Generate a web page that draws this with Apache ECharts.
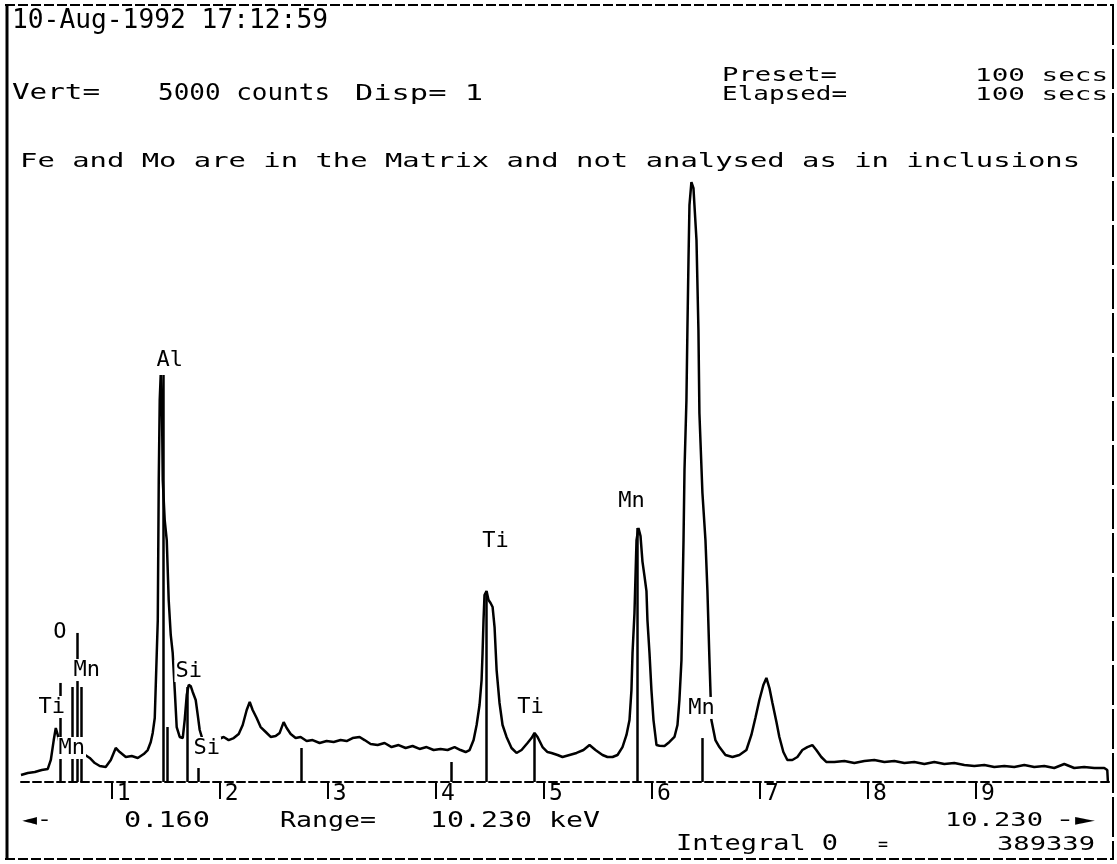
<!DOCTYPE html>
<html>
<head>
<meta charset="utf-8">
<title>EDS spectrum 10-Aug-1992</title>
<script src="https://cdn.jsdelivr.net/npm/echarts/dist/echarts.min.js"></script>
<style>
  html, body { margin: 0; padding: 0; background: #fff; }
  #spectrum { width: 1117px; height: 864px; }
</style>
</head>
<body>
<div id="spectrum"></div>
<script>
// spectrum: [keV, counts]  (full scale = 5000 counts)
var spectrum = [
  [0.16,52],[0.223,67],[0.288,74],[0.352,89],[0.408,97],[0.436,164],[0.463,312],[0.482,402],[0.500,350],[0.528,253],
  [0.574,223],[0.630,238],[0.685,223],[0.741,208],[0.796,179],[0.843,141],[0.889,119],[0.944,112],[0.991,164],[1.037,253],
  [1.074,223],[1.130,186],[1.185,193],[1.241,179],[1.296,208],[1.333,238],[1.361,298],[1.379,365],[1.398,476],[1.416,945],
  [1.426,1205],[1.435,2247],[1.444,2842],[1.453,3028],[1.463,2916],[1.472,2247],[1.490,1949],[1.509,1800],[1.527,1354],[1.546,1094],
  [1.564,960],[1.583,684],[1.601,409],[1.629,335],[1.657,327],[1.675,461],[1.694,647],[1.712,722],[1.731,714],[1.749,670],
  [1.777,610],[1.796,498],[1.814,387],[1.842,312],[1.888,275],[1.944,305],[1.990,320],[2.036,335],[2.082,312],[2.129,327],
  [2.175,357],[2.212,424],[2.249,536],[2.277,595],[2.304,536],[2.341,476],[2.378,409],[2.425,372],[2.471,335],[2.517,342],
  [2.554,365],[2.591,446],[2.619,402],[2.656,357],[2.702,327],[2.748,335],[2.804,305],[2.859,312],[2.924,290],[2.989,305],
  [3.054,298],[3.118,312],[3.174,305],[3.229,327],[3.294,335],[3.340,312],[3.396,283],[3.461,275],[3.525,290],[3.590,260],
  [3.655,275],[3.720,253],[3.784,268],[3.849,246],[3.914,260],[3.979,238],[4.043,246],[4.108,238],[4.173,260],[4.228,238],
  [4.275,223],[4.312,238],[4.349,312],[4.377,424],[4.404,573],[4.423,759],[4.432,960],[4.441,1205],[4.450,1391],[4.469,1421],
  [4.487,1354],[4.506,1332],[4.525,1302],[4.543,1153],[4.562,833],[4.589,588],[4.617,424],[4.654,335],[4.700,253],[4.746,216],
  [4.793,238],[4.848,290],[4.885,327],[4.913,365],[4.941,335],[4.987,260],[5.033,223],[5.070,216],[5.126,201],[5.172,186],
  [5.237,201],[5.302,216],[5.366,238],[5.422,275],[5.477,238],[5.542,201],[5.588,186],[5.635,186],[5.681,201],[5.727,260],
  [5.764,350],[5.792,461],[5.810,684],[5.820,960],[5.838,1257],[5.857,1800],[5.875,1890],[5.894,1830],[5.912,1640],[5.931,1530],
  [5.949,1420],[5.958,1205],[5.977,960],[5.995,684],[6.014,461],[6.042,275],[6.069,270],[6.116,268],[6.162,298],[6.208,335],
  [6.236,424],[6.254,610],[6.273,908],[6.282,1354],[6.292,1800],[6.301,2321],[6.319,2842],[6.328,3363],[6.338,3884],[6.347,4293],
  [6.365,4464],[6.384,4419],[6.393,4293],[6.412,4032],[6.430,3363],[6.439,2745],[6.467,2150],[6.495,1800],[6.513,1428],[6.532,908],
  [6.550,461],[6.587,312],[6.624,260],[6.680,201],[6.745,186],[6.809,201],[6.874,238],[6.920,350],[6.957,476],[6.994,610],
  [7.031,722],[7.059,774],[7.087,699],[7.115,588],[7.152,446],[7.179,335],[7.216,223],[7.253,164],[7.299,164],[7.346,186],
  [7.392,238],[7.438,260],[7.484,275],[7.521,238],[7.567,186],[7.613,149],[7.688,149],[7.781,156],[7.873,141],[7.966,156],
  [8.058,164],[8.151,149],[8.243,156],[8.336,141],[8.428,149],[8.521,134],[8.613,149],[8.706,134],[8.798,141],[8.891,126],
  [8.983,119],[9.076,126],[9.168,112],[9.261,119],[9.353,112],[9.446,126],[9.538,112],[9.631,119],[9.723,104],[9.816,134],
  [9.908,104],[10.000,112],[10.093,104],[10.186,104],[10.214,89],[10.22,0]
];

// KLM marker lines (energy, height in counts)
var markerKeV = [0.519, 0.630, 0.685, 0.722, 1.472, 1.509, 1.703, 1.796, 2.758, 4.145, 4.469, 4.913, 5.866, 6.467];
var markerTop = [737, 707, 1109, 707, 3028, 409, 707, 104, 253, 149, 1414, 350, 1890, 327];

// element labels
var labelText   = ['Ti', 'Mn', 'O', 'Mn', 'Al', 'Si', 'Si', 'Ti', 'Ti', 'Mn', 'Mn'];
var labelKeV    = [0.445, 0.630, 0.519, 0.769, 1.537, 1.712, 1.879, 4.552, 4.876, 5.810, 6.458];
var labelCounts = [558, 253, 1116, 833, 3140, 826, 253, 1790, 558, 2090, 551];

// axis
var tickValues = [1, 2, 3, 4, 5, 6, 7, 8, 9];
var rangeMin = 0.16, rangeMax = 10.23, fullScale = 5000;

var MONO = '"DejaVu Sans Mono", "Liberation Mono", monospace';

// screen text, stretched to the width it has on the printout
function txt(str, left, cy, size, width) {
    var natural = str.length * size * 0.602;
    return {
        type: 'text', x: left, y: cy, scaleX: width / natural, silent: true,
        style: { text: str, fontSize: size, fontFamily: MONO, fill: '#000', align: 'left', verticalAlign: 'middle' }
    };
}

function line(x1, y1, x2, y2, w, dash) {
    return {
        type: 'line', silent: true,
        shape: { x1: x1, y1: y1, x2: x2, y2: y2 },
        style: { stroke: '#000', lineWidth: w, lineDash: dash || null }
    };
}

var chart = echarts.init(document.getElementById('spectrum'));

var markerData = markerKeV.map(function (k, i) {
    return [{ coord: [k, 0] }, { coord: [k, markerTop[i]] }];
});
var labelData = labelText.map(function (t, i) {
    return { name: t, value: [labelKeV[i], labelCounts[i]] };
});

var option = {
    backgroundColor: '#fff',
    animation: false,
    grid: { left: 21, right: 8, top: 110, bottom: 82 },
    xAxis: {
        type: 'value', min: rangeMin, max: rangeMax,
        splitLine: { show: false },
        axisLine: { show: true, lineStyle: { color: '#000', width: 2, type: [8, 4] } },
        axisTick: { show: true, customValues: tickValues, length: 17, lineStyle: { color: '#000', width: 2 } },
        axisLabel: {
            show: true, customValues: tickValues, align: 'left', verticalAlign: 'top',
            margin: 1, padding: [0, 0, 0, 5], fontFamily: MONO, fontSize: 23, color: '#000'
        }
    },
    yAxis: { type: 'value', min: 0, max: fullScale, show: false, splitLine: { show: false } },
    graphic: [
        line(5, 5, 1114, 5, 2, [10, 3]),
        line(7, 5, 7, 859, 3),
        line(1113, 5, 1113, 859, 2, [40, 4]),
        line(5, 859, 1114, 859, 2, [10, 3]),
        txt('10-Aug-1992 17:12:59', 12, 21, 26, 316),
        txt('Vert=', 12, 94, 21, 88),
        txt('5000 counts', 158, 94, 23, 172),
        txt('Disp= 1', 355, 94, 22, 128),
        txt('Preset=', 722, 76, 20, 115),
        txt('100 secs', 975, 76, 18, 133),
        txt('Elapsed=', 722, 95, 20, 125),
        txt('100 secs', 975, 95, 18, 133),
        txt('Fe and Mo are in the Matrix and not analysed as in inclusions', 20, 162, 19, 1060),
        txt('◄-', 22, 821, 20, 30),
        txt('0.160', 124, 821, 22, 86),
        txt('Range=', 280, 821, 22, 96),
        txt('10.230 keV', 430, 821, 22, 170),
        txt('10.230', 945, 821, 20, 98),
        txt('-►', 1055, 821, 20, 40),
        txt('Integral 0', 676, 845, 21, 162),
        txt('=', 878, 845, 18, 10),
        txt('389339', 997, 845, 20, 98)
    ],
    series: [
        {
            name: 'spectrum', type: 'line', data: spectrum,
            showSymbol: false, symbol: 'none', smooth: false, silent: true,
            lineStyle: { color: '#000', width: 2.5 },
            markLine: {
                silent: true, symbol: 'none', animation: false,
                label: { show: false },
                lineStyle: { color: '#000', width: 2.5, type: 'solid' },
                data: markerData
            },
            z: 2
        },
        {
            // labels sit on a white patch so the marker lines break behind them
            name: 'labels', type: 'scatter', data: labelData,
            symbolSize: 1, silent: true,
            itemStyle: { color: 'rgba(0,0,0,0)', opacity: 1 },
            label: {
                show: true, position: 'inside', formatter: '{b}',
                fontFamily: MONO, fontSize: 22, color: '#000', opacity: 1,
                textBorderWidth: 0,
                backgroundColor: '#fff', padding: [0, 1]
            },
            z: 5
        }
    ]
};
chart.setOption(option);
</script>
</body>
</html>
